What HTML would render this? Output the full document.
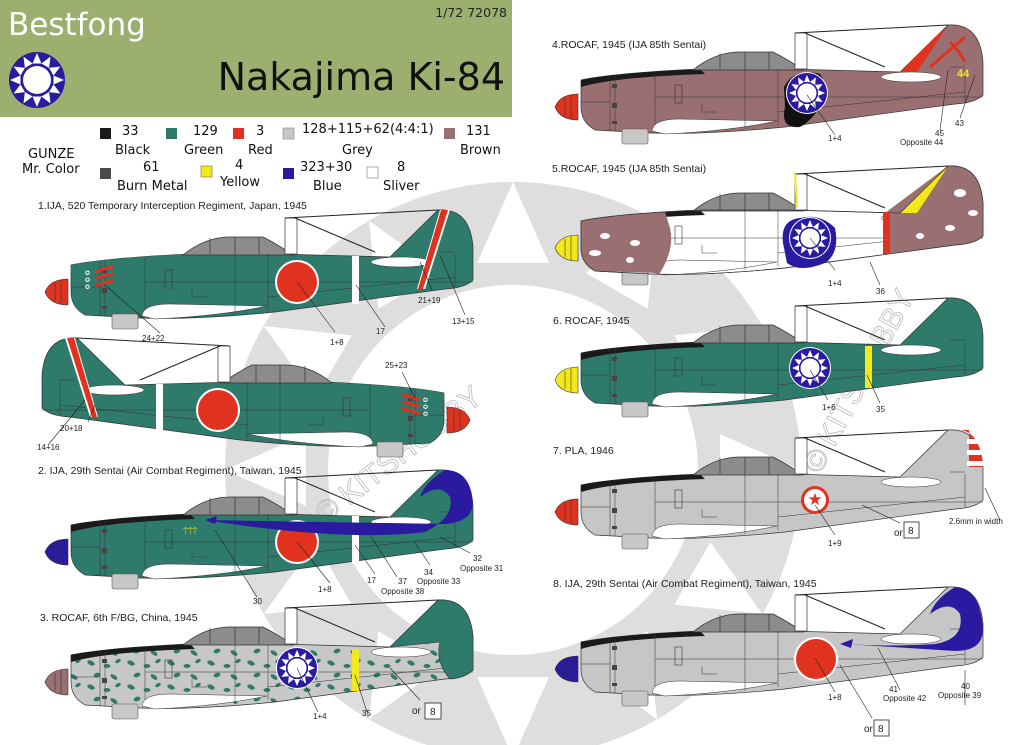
<!DOCTYPE html>
<html><head><meta charset="utf-8"><style>
html,body{margin:0;padding:0;background:#fff;}
svg{display:block;font-family:"Liberation Sans",Arial,sans-serif;}
.lb{font-size:10.5px;fill:#222;}
.cn{font-size:8px;fill:#222;}
.lg{font-size:13px;fill:#111;font-family:"DejaVu Sans","Liberation Sans",sans-serif;}
.cl{stroke:#222;stroke-width:.6;fill:none;}
</style></head><body>
<svg width="1024" height="745" viewBox="0 0 1024 745" xmlns="http://www.w3.org/2000/svg" xmlns:xlink="http://www.w3.org/1999/xlink">
<defs>
<pattern id="camo" width="40" height="24" patternUnits="userSpaceOnUse">
<rect width="40" height="24" fill="#c8c8c8"/>
<ellipse cx="6" cy="5" rx="4" ry="2.2" fill="#2e7b6c" transform="rotate(25 6 5)"/>
<ellipse cx="22" cy="8" rx="3.5" ry="2" fill="#2e7b6c"/>
<ellipse cx="33" cy="3" rx="3" ry="1.8" fill="#2e7b6c" transform="rotate(-30 33 3)"/>
<ellipse cx="12" cy="17" rx="3.5" ry="2.2" fill="#2e7b6c" transform="rotate(-20 12 17)"/>
<ellipse cx="29" cy="19" rx="4" ry="2" fill="#2e7b6c" transform="rotate(35 29 19)"/>
</pattern>
<path id="fus" d="M26,-27 Q60,-34 145,-38 L232,-38 L345,-35 L393,-82 Q425,-84 428,-45 L428,-12 Q420,-4 400,-3 L230,20 Q150,28 95,26 L40,23 Q26,15 26,0 Z"/>
<g id="pl">
<use xlink:href="#fus" style="fill:var(--c)" stroke="#333" stroke-width=".7"/>
<path d="M26,-27 Q60,-34 145,-38 L150,-33 Q60,-30 26,-20 Z" style="fill:var(--top)"/>
<path d="M138,-37 Q160,-55 185,-55 L218,-55 Q232,-48 248,-37 Z" fill="#8c8c8c" stroke="#333" stroke-width=".7"/>
<path d="M165,-54 V-38 M190,-55 V-38 M214,-55 V-38" stroke="#333" stroke-width=".7"/>
<path d="M97,24 Q98,12 125,12 L222,14 Q175,24 110,27 Z" fill="#fff" stroke="#333" stroke-width=".5"/>
<ellipse cx="356" cy="-30" rx="30" ry="5" fill="#fff" stroke="#333" stroke-width=".5"/>
<rect x="67" y="22" width="26" height="15" rx="2" fill="#c8c8c8" stroke="#555" stroke-width=".6"/>
<path d="M55,-31 V24 M60,-31 V24 M100,-35 V18 M190,-38 V22 M223,-38 V18 M100,-10 H428 M223,5 L410,-15 M147,-3 V5 H162 M26,-5 H55 M410,-38 V-5 M395,-40 L410,-40" stroke="#333" stroke-width=".5" fill="none"/>
<rect x="120" y="-22" width="7" height="18" fill="none" stroke="#333" stroke-width=".6"/>
<rect x="57" y="-23" width="5" height="4" fill="#444"/><rect x="57" y="-4" width="5" height="5" fill="#444"/><rect x="57" y="14" width="5" height="3" fill="#444"/>
<rect x="240" y="-74" width="12" height="36" fill="#fff" stroke="#333" stroke-width=".7"/>
<path d="M240,-74 L393,-82 M250,-74 L330,-40" stroke="#222" fill="none" stroke-width="1"/>
</g>
<path id="sp" d="M0,0 Q5,-13 23,-13 L23,13 Q5,13 0,0Z M10,-9 V9 M16,-12 V12" stroke="#333" stroke-width=".6"/>
<g id="hino"><circle r="22" fill="#fff"/><circle r="20" fill="#e0321e"/></g>
<polygon id="ray" points="0,-18 -3,-11 3,-11" fill="#fff"/>
<g id="roc"><circle r="21" fill="#fff"/><circle r="20" fill="#2a1aa0"/>
<use xlink:href="#ray"/><use xlink:href="#ray" transform="rotate(30)"/><use xlink:href="#ray" transform="rotate(60)"/><use xlink:href="#ray" transform="rotate(90)"/><use xlink:href="#ray" transform="rotate(120)"/><use xlink:href="#ray" transform="rotate(150)"/><use xlink:href="#ray" transform="rotate(180)"/><use xlink:href="#ray" transform="rotate(210)"/><use xlink:href="#ray" transform="rotate(240)"/><use xlink:href="#ray" transform="rotate(270)"/><use xlink:href="#ray" transform="rotate(300)"/><use xlink:href="#ray" transform="rotate(330)"/>
<circle r="9.5" fill="#fff"/></g>
<polygon id="bray" points="0,-288 -36,-207 36,-207" fill="#fff"/>
</defs>

<!-- background sun -->
<g transform="translate(513,470)">
<circle r="288" fill="#dedede"/>
<circle r="185" fill="#fff"/>
<use xlink:href="#bray"/><use xlink:href="#bray" transform="rotate(30)"/><use xlink:href="#bray" transform="rotate(60)"/><use xlink:href="#bray" transform="rotate(90)"/><use xlink:href="#bray" transform="rotate(120)"/><use xlink:href="#bray" transform="rotate(150)"/><use xlink:href="#bray" transform="rotate(180)"/><use xlink:href="#bray" transform="rotate(210)"/><use xlink:href="#bray" transform="rotate(240)"/><use xlink:href="#bray" transform="rotate(270)"/><use xlink:href="#bray" transform="rotate(300)"/><use xlink:href="#bray" transform="rotate(330)"/>
</g>

<!-- header -->
<rect x="0" y="0" width="512" height="117" fill="#9caf6e"/>
<text x="8" y="35" font-size="31" fill="#fff" font-family="'DejaVu Sans',sans-serif">Bestfong</text>
<text x="507" y="17" font-size="12.5" fill="#222" text-anchor="end" font-family="'DejaVu Sans',sans-serif">1/72  72078</text>
<text x="505" y="90" font-size="38" fill="#111" text-anchor="end" font-family="'DejaVu Sans',sans-serif">Nakajima Ki-84</text>
<g transform="translate(37,80)" >
<circle r="28" fill="#2a1aa0"/>
<g transform="scale(1.5)"><use xlink:href="#ray"/><use xlink:href="#ray" transform="rotate(30)"/><use xlink:href="#ray" transform="rotate(60)"/><use xlink:href="#ray" transform="rotate(90)"/><use xlink:href="#ray" transform="rotate(120)"/><use xlink:href="#ray" transform="rotate(150)"/><use xlink:href="#ray" transform="rotate(180)"/><use xlink:href="#ray" transform="rotate(210)"/><use xlink:href="#ray" transform="rotate(240)"/><use xlink:href="#ray" transform="rotate(270)"/><use xlink:href="#ray" transform="rotate(300)"/><use xlink:href="#ray" transform="rotate(330)"/></g>
<circle r="14" fill="#fff"/></g>

<!-- legend -->
<g class="lg">
<text x="28" y="158" font-size="12" class="lg">GUNZE</text>
<text x="22" y="173" font-size="12" class="lg">Mr. Color</text>
<rect x="100" y="128" width="11" height="11" fill="#1a1a1a"/><text x="122" y="135" class="lg">33</text><text x="115" y="154" class="lg">Black</text>
<rect x="166" y="128" width="11" height="11" fill="#2e7b6c"/><text x="193" y="135" class="lg">129</text><text x="184" y="154" class="lg">Green</text>
<rect x="233" y="128" width="11" height="11" fill="#e0321e"/><text x="256" y="135" class="lg">3</text><text x="248" y="154" class="lg">Red</text>
<rect x="283" y="128" width="11" height="11" fill="#c8c8c8" stroke="#888" stroke-width=".6"/><text x="302" y="133" class="lg">128+115+62(4:4:1)</text><text x="342" y="154" class="lg">Grey</text>
<rect x="444" y="128" width="11" height="11" fill="#9a6f72"/><text x="466" y="135" class="lg">131</text><text x="460" y="154" class="lg">Brown</text>
<rect x="100" y="168" width="11" height="11" fill="#4a4a4a"/><text x="143" y="171" class="lg">61</text><text x="117" y="190" class="lg">Burn Metal</text>
<rect x="201" y="166" width="11" height="11" fill="#f5e81a" stroke="#555" stroke-width=".5"/><text x="235" y="169" class="lg">4</text><text x="220" y="186" class="lg">Yellow</text>
<rect x="283" y="168" width="11" height="11" fill="#2a1aa0"/><text x="300" y="171" class="lg">323+30</text><text x="313" y="190" class="lg">Blue</text>
<rect x="367" y="167" width="11" height="11" fill="#fff" stroke="#777" stroke-width=".6"/><text x="397" y="171" class="lg">8</text><text x="383" y="190" class="lg">Sliver</text>
</g>

<!-- watermarks -->
<text x="0" y="0" font-size="30" fill="rgba(255,255,255,.35)" stroke="#bbb" stroke-width=".8" transform="translate(325,525) rotate(-38)">© KITSHOBBY</text>
<text x="0" y="0" font-size="30" fill="rgba(255,255,255,.35)" stroke="#bbb" stroke-width=".8" transform="translate(820,475) rotate(-62)">© KITSHOBBY</text>

<!-- labels -->
<text x="38" y="209" class="lb">1.IJA, 520 Temporary Interception Regiment, Japan, 1945</text>
<text x="38" y="474" class="lb">2. IJA, 29th Sentai (Air Combat Regiment), Taiwan, 1945</text>
<text x="40" y="621" class="lb">3. ROCAF, 6th F/BG, China, 1945</text>
<text x="552" y="48" class="lb">4.ROCAF, 1945 (IJA 85th Sentai)</text>
<text x="552" y="172" class="lb">5.ROCAF, 1945 (IJA 85th Sentai)</text>
<text x="553" y="324" class="lb">6. ROCAF, 1945</text>
<text x="553" y="454" class="lb">7. PLA, 1946</text>
<text x="553" y="587" class="lb">8. IJA, 29th Sentai (Air Combat Regiment), Taiwan, 1945</text>

<!-- Plane 1 -->
<g transform="translate(45,292)" style="--c:#2e7b6c;--top:#2e7b6c;--s:#e0321e">
<use xlink:href="#pl"/><use xlink:href="#sp" style="fill:var(--s)"/>
<use xlink:href="#hino" x="252" y="-10"/>
<rect x="307" y="-36" width="7" height="48" fill="#fff"/>
<path d="M395,-82 L405,-82 L380,-3 L372,-3 Z" fill="#fff"/><path d="M396,-82 L403,-82 L378,-3 L373,-3 Z" fill="#e0321e"/>
<path d="M50,-20 Q60,-24 68,-25 M50,-13 Q60,-17 68,-18 M50,-6 Q60,-10 68,-11" stroke="#e0321e" stroke-width="3" fill="none"/>
<text x="40" y="-17" font-size="6" fill="#fff">✪</text><text x="40" y="-10" font-size="6" fill="#fff">✪</text><text x="40" y="-3" font-size="6" fill="#fff">✪</text>
</g>
<path class="cl" d="M105,285 L160,333 M297,282 L335,332 M356,285 L385,327 M420,262 L432,290 M440,255 L465,315"/>
<text x="142" y="341" class="cn">24+22</text><text x="330" y="345" class="cn">1+8</text><text x="376" y="334" class="cn">17</text><text x="418" y="303" class="cn">21+19</text><text x="452" y="324" class="cn">13+15</text>

<!-- Plane 2 (mirrored) -->
<g transform="translate(470,420) scale(-1,1)" style="--c:#2e7b6c;--top:#2e7b6c;--s:#e0321e">
<use xlink:href="#pl"/><use xlink:href="#sp" style="fill:var(--s)"/>
<use xlink:href="#hino" x="252" y="-10"/>
<rect x="307" y="-36" width="7" height="48" fill="#fff"/>
<path d="M395,-82 L405,-82 L380,-3 L372,-3 Z" fill="#fff"/><path d="M396,-82 L403,-82 L378,-3 L373,-3 Z" fill="#e0321e"/>
<path d="M50,-20 Q60,-24 68,-25 M50,-13 Q60,-17 68,-18 M50,-6 Q60,-10 68,-11" stroke="#e0321e" stroke-width="3" fill="none"/>
</g>
<text x="423" y="402" font-size="6" fill="#fff">✪</text><text x="423" y="409" font-size="6" fill="#fff">✪</text><text x="423" y="416" font-size="6" fill="#fff">✪</text>
<path class="cl" d="M402,372 L415,398 M85,400 L48,445 M95,405 L88,422"/>
<text x="385" y="368" class="cn">25+23</text><text x="60" y="431" class="cn">20+18</text><text x="37" y="450" class="cn">14+16</text>

<!-- Plane 3 -->
<g transform="translate(45,552)" style="--c:#2e7b6c;--top:#1a1a1a;--s:#2a1aa0">
<use xlink:href="#pl"/><use xlink:href="#sp" style="fill:var(--s)"/>
<use xlink:href="#hino" x="252" y="-10"/>
<rect x="307" y="-36" width="7" height="48" fill="#fff"/>
<path d="M160,-32 L400,-28 Q428,-30 428,-50 Q425,-82 400,-82 Q380,-70 375,-55 Q395,-70 405,-55 Q410,-35 380,-20 Q300,-10 160,-32 Z" fill="#2a1aa0"/>
<path d="M160,-32 L172,-36 L170,-28 Z" fill="#2a1aa0"/>
<text x="138" y="-18" font-size="8" fill="#f5e81a">⍑⍑⍑</text>
</g>
<path class="cl" d="M215,530 L257,597 M297,542 L330,583 M355,545 L375,574 M370,535 L397,577 M415,543 L430,565 M440,537 L470,553"/>
<text x="253" y="604" class="cn">30</text><text x="318" y="592" class="cn">1+8</text><text x="367" y="583" class="cn">17</text><text x="398" y="584" class="cn">37</text><text x="381" y="594" class="cn">Opposite 38</text><text x="424" y="575" class="cn">34</text><text x="417" y="584" class="cn">Opposite 33</text><text x="473" y="561" class="cn">32</text><text x="460" y="571" class="cn">Opposite 31</text>

<!-- Plane 4 -->
<g transform="translate(45,682)" style="--c:url(#camo);--top:#1a1a1a;--s:#9a6f72">
<use xlink:href="#pl"/><use xlink:href="#sp" style="fill:var(--s)"/>
<path d="M345,-35 L393,-82 Q425,-84 428,-45 L428,-12 Q420,-4 405,-3 Q390,-20 395,-40 Z" fill="#2e7b6c" stroke="#333" stroke-width=".6"/>
<use xlink:href="#roc" x="252" y="-14"/>
<rect x="307" y="-33" width="7" height="42" fill="#f5e81a"/>
</g>
<path class="cl" d="M297,668 L318,712 M355,675 L367,712 M390,668 L420,700"/>
<text x="313" y="719" class="cn">1+4</text><text x="362" y="716" class="cn">35</text>
<text x="412" y="714" font-size="10" fill="#222">or</text><rect x="425" y="703" width="16" height="16" fill="#fff" stroke="#222" stroke-width=".8"/><text x="430" y="715" font-size="10" fill="#222">8</text>

<!-- Plane 5 (right) -->
<g transform="translate(555,107)" style="--c:#9a6f72;--top:#1a1a1a;--s:#e0321e">
<use xlink:href="#pl"/><use xlink:href="#sp" style="fill:var(--s)"/>
<path d="M345,-35 L380,-70 L392,-80 L362,-35 Z" fill="#e0321e"/>
<path d="M229,-20 Q240,-40 265,-33 Q275,-20 265,0 Q255,15 245,20 Q225,22 230,0 Z" fill="#111"/>
<use xlink:href="#roc" x="252" y="-14"/>
<path d="M375,-40 L410,-70 M395,-65 Q405,-55 410,-45" stroke="#e0321e" stroke-width="3" fill="none"/>
<text x="402" y="-30" font-size="11" fill="#f5e81a" font-weight="bold">44</text>
</g>
<path class="cl" d="M807,95 L835,135 M948,70 L940,130 M975,75 L960,118"/>
<text x="828" y="141" class="cn">1+4</text><text x="935" y="136" class="cn">45</text><text x="900" y="145" class="cn">Opposite 44</text><text x="955" y="126" class="cn">43</text>

<!-- Plane 6 -->
<g transform="translate(555,248)" style="--c:#fff;--top:#1a1a1a;--s:#f5e81a">
<use xlink:href="#pl"/>
<path d="M26,-27 Q60,-34 110,-36 L115,-20 Q120,0 105,25 L40,23 Q26,15 26,0 Z" fill="#9a6f72"/>
<path d="M330,-35 L393,-82 Q425,-84 428,-45 L428,-12 Q420,-4 400,-3 L330,6 Z" fill="#9a6f72"/>
<path d="M345,-35 L380,-70 L392,-80 L362,-35 Z" fill="#f5e81a"/>
<ellipse cx="50" cy="-12" rx="5" ry="3" fill="#fff"/><ellipse cx="40" cy="5" rx="6" ry="3" fill="#fff"/><ellipse cx="80" cy="-5" rx="5" ry="3" fill="#fff"/><ellipse cx="75" cy="12" rx="4" ry="3" fill="#fff"/>
<ellipse cx="405" cy="-55" rx="6" ry="4" fill="#fff"/><ellipse cx="418" cy="-35" rx="5" ry="3" fill="#fff"/><ellipse cx="395" cy="-20" rx="5" ry="3" fill="#fff"/><ellipse cx="365" cy="-12" rx="4" ry="3" fill="#fff"/>
<use xlink:href="#sp" style="fill:var(--s)"/>
<use xlink:href="#fus" fill="none" stroke="#333" stroke-width=".7"/>
<path d="M228,-5 Q225,-28 245,-30 Q265,-35 280,-20 Q285,5 270,15 Q245,25 232,15 Z" fill="#2a1aa0"/>
<use xlink:href="#roc" x="255" y="-10"/>
<rect x="328" y="-36" width="7" height="42" fill="#e0321e"/>
<path d="M240,-74 L242,-40" stroke="#f5e81a" stroke-width="2"/>
</g>
<path class="cl" d="M810,238 L835,270 M870,262 L880,285"/>
<text x="828" y="286" class="cn">1+4</text><text x="876" y="294" class="cn">36</text>

<!-- Plane 7 -->
<g transform="translate(555,380)" style="--c:#2e7b6c;--top:#1a1a1a;--s:#f5e81a">
<use xlink:href="#pl"/><use xlink:href="#sp" style="fill:var(--s)"/>
<use xlink:href="#roc" x="255" y="-12"/>
<rect x="310" y="-34" width="7" height="42" fill="#f5e81a"/>
</g>
<path class="cl" d="M810,370 L828,400 M867,375 L880,403"/>
<text x="822" y="410" class="cn">1+6</text><text x="876" y="412" class="cn">35</text>

<!-- Plane 8 -->
<g transform="translate(555,512)" style="--c:#c6c6c6;--top:#1a1a1a;--s:#e0321e">
<use xlink:href="#pl"/><use xlink:href="#sp" style="fill:var(--s)"/>
<path d="M400,-82 Q425,-84 428,-45 L414,-45 L414,-82 Z" fill="#e0321e"/>
<rect x="412" y="-73" width="17" height="5" fill="#fff"/><rect x="412" y="-62" width="17" height="5" fill="#fff"/><rect x="412" y="-51" width="17" height="5" fill="#fff"/>
<circle cx="260" cy="-12" r="14" fill="#e0321e"/><circle cx="260" cy="-12" r="11" fill="#fff"/>
<text x="260" y="-7" font-size="17" text-anchor="middle" fill="#e0321e">★</text>
</g>
<path class="cl" d="M815,505 L835,535 M862,505 L900,523 M985,488 L1000,520"/>
<text x="828" y="546" class="cn">1+9</text>
<text x="894" y="536" font-size="10" fill="#222">or</text><rect x="904" y="522" width="15" height="16" fill="#fff" stroke="#222" stroke-width=".8"/><text x="908" y="534" font-size="10" fill="#222">8</text>
<text x="949" y="524" class="cn">2.6mm in width</text>

<!-- Plane 9 -->
<g transform="translate(555,669)" style="--c:#c6c6c6;--top:#1a1a1a;--s:#2a1aa0">
<use xlink:href="#pl"/><use xlink:href="#sp" style="fill:var(--s)"/>
<use xlink:href="#hino" x="261" y="-10"/>
<path d="M290,-25 L400,-18 Q428,-18 428,-40 Q425,-82 400,-82 Q380,-70 375,-55 Q395,-70 405,-55 Q410,-30 380,-25 Q340,-22 290,-25 Z" fill="#2a1aa0"/>
<path d="M285,-25 L298,-30 L296,-21 Z" fill="#2a1aa0"/>
</g>
<path class="cl" d="M815,658 L835,692 M840,665 L872,718 M878,648 L900,690 M965,670 L965,705"/>
<text x="828" y="700" class="cn">1+8</text>
<text x="889" y="692" class="cn">41</text><text x="883" y="701" class="cn">Opposite 42</text>
<text x="961" y="689" class="cn">40</text><text x="938" y="698" class="cn">Opposite 39</text>
<text x="864" y="732" font-size="10" fill="#222">or</text><rect x="874" y="720" width="15" height="16" fill="#fff" stroke="#222" stroke-width=".8"/><text x="878" y="732" font-size="10" fill="#222">8</text>
</svg>
</body></html>
